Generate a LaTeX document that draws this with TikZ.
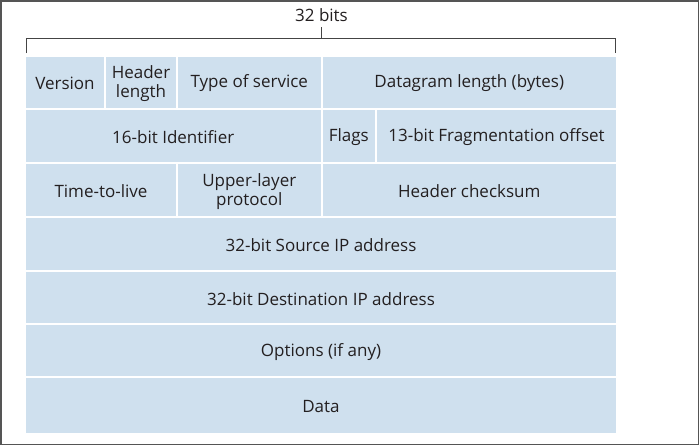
\documentclass[tikz,border=0pt]{standalone}
\usepackage{fontspec}
\setmainfont{Open Sans}
\definecolor{cellfill}{RGB}{207,224,238}
\definecolor{txt}{RGB}{35,31,32}
\definecolor{framegray}{RGB}{85,85,85}
\newcommand{\mkcell}[6]{%
  \pgfmathsetmacro{\cw}{#3-#2-2}%
  \pgfmathsetmacro{\ch}{#5-#4-2}%
  \node[cellbox, minimum width=\cw pt, minimum height=\ch pt,
    label={[celltext]center:{#6}}] (#1) at ({(#2+#3)/2},{(#4+#5)/2}) {};}
\begin{document}
\begin{tikzpicture}[x=1pt,y=-1pt,
  cellbox/.style={rectangle, fill=cellfill, inner sep=0pt},
  celltext/.style={inner sep=0pt, text=txt, align=center, yshift=-1.5pt,
    font=\fontsize{17}{19.5}\selectfont},
  bracketline/.style={draw=framegray!80!black, line width=0.9pt},
  ]
\useasboundingbox (0,0) rectangle (699,445);
\draw[framegray, line width=1.5pt] (0.75,0.75) rectangle (698.25,444.25);
% title
\node[text=txt, font=\fontsize{17}{19}\selectfont, inner sep=0pt] (title) at (321.5,15.5) {32 bits};
\coordinate (bl) at (26.5,53);
\coordinate (blt) at (26.5,38.5);
\coordinate (brt) at (615.5,38.5);
\coordinate (br) at (615.5,53);
\coordinate (bm) at (321.5,38.5);
\coordinate (bmt) at (321.5,27);
\draw[bracketline] (bl) -- (blt) -- (brt) -- (br);
\draw[bracketline] (bm) -- (bmt);
% row 1
\mkcell{ver}{25}{105}{55.5}{108.5}{Version}
\mkcell{hlen}{105}{177}{55.5}{108.5}{Header\\length}
\mkcell{tos}{177}{321.5}{55.5}{108.5}{Type of service}
\mkcell{dlen}{321.5}{617}{55.5}{108.5}{Datagram length (bytes)}
% row 2
\mkcell{ident}{25}{321.5}{108.5}{163}{16-bit Identifier}
\mkcell{flags}{321.5}{376}{108.5}{163}{Flags}
\mkcell{frag}{376}{617}{108.5}{163}{13-bit Fragmentation offset}
% row 3
\mkcell{ttl}{25}{177}{163}{217}{Time-to-live}
\mkcell{ulp}{177}{321.5}{163}{217}{Upper-layer\\protocol}
\mkcell{csum}{321.5}{617}{163}{217}{Header checksum}
% rows 4-7
\mkcell{src}{25}{617}{217}{271}{32-bit Source IP address}
\mkcell{dst}{25}{617}{271}{324}{32-bit Destination IP address}
\mkcell{opt}{25}{617}{324}{377}{Options (if any)}
\mkcell{data}{25}{617}{377}{433.5}{Data}
\end{tikzpicture}
\end{document}
